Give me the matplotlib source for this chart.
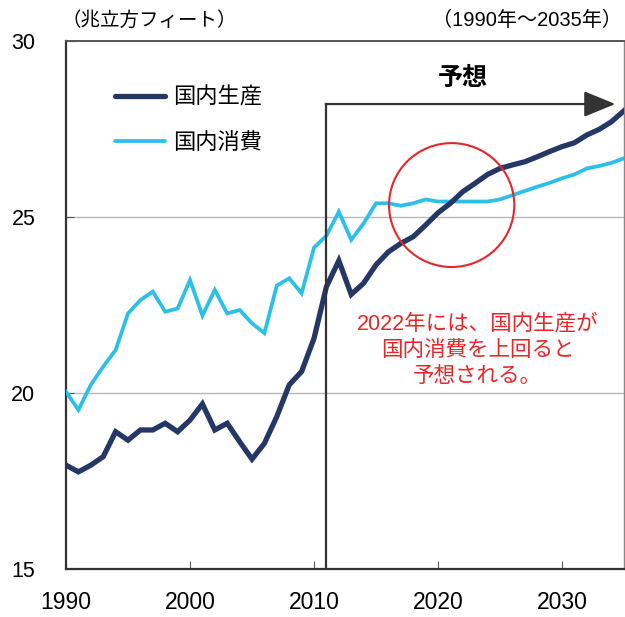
import matplotlib.pyplot as plt
from matplotlib.patches import Ellipse

plt.rcParams['font.family'] = ['Liberation Sans', 'Noto Sans CJK JP', 'DejaVu Sans']

years = list(range(1990, 2036))
# 国内生産 (兆立方フィート)
production = [17.95, 17.76, 17.95, 18.19, 18.90, 18.66, 18.95, 18.95, 19.14, 18.90,
              19.23, 19.69, 18.95, 19.14, 18.62, 18.12, 18.57, 19.33, 20.23, 20.61,
              21.55, 23.02, 23.76, 22.80, 23.12, 23.64, 24.01, 24.25, 24.44, 24.77,
              25.12, 25.39, 25.72, 25.96, 26.21, 26.38, 26.48, 26.57, 26.71, 26.86,
              27.00, 27.11, 27.33, 27.49, 27.71, 28.02]
# 国内消費 (兆立方フィート)
consumption = [20.04, 19.52, 20.23, 20.75, 21.22, 22.26, 22.64, 22.88, 22.31, 22.40,
               23.21, 22.20, 22.93, 22.26, 22.36, 21.98, 21.70, 23.05, 23.26, 22.83,
               24.13, 24.47, 25.15, 24.35, 24.82, 25.39, 25.39, 25.32, 25.39, 25.50,
               25.44, 25.44, 25.44, 25.44, 25.44, 25.50, 25.62, 25.74, 25.86, 25.97,
               26.10, 26.21, 26.38, 26.45, 26.54, 26.67]

x_ticks = [1990, 2000, 2010, 2020, 2030]
y_ticks = [15, 20, 25, 30]

forecast_start = 2011
arrow_end = 2034.3
arrow_level = 28.21
cross_year = 2021.1
cross_value = 25.34

navy = '#253865'
sky = '#2bc0ea'
red = '#e8262a'

fig = plt.figure(figsize=(6.25, 6.17), dpi=100)
ax = fig.add_axes([0.1056, 0.0778, 0.8928, 0.8557])

ax.plot(years, production, color=navy, lw=3.8, solid_joinstyle='miter', label='国内生産', zorder=4)
ax.plot(years, consumption, color=sky, lw=2.7, solid_joinstyle='miter', label='国内消費', zorder=3)

ax.set_xlim(1990, 2035)
ax.set_ylim(15, 30)
ax.set_xticks(x_ticks)
ax.set_yticks(y_ticks)
ax.tick_params(axis='x', direction='in', length=6, width=0.8, color='#555555', pad=16, labelsize=16.5)
ax.tick_params(axis='y', direction='in', length=6, width=0.8, color='#555555', pad=22, labelsize=15.5)
for y in (20, 25):
    ax.axhline(y, color='#b8b8b8', lw=1.0, zorder=1)

for side in ('left', 'bottom'):
    ax.spines[side].set_color('#333333')
    ax.spines[side].set_linewidth(1.6)
ax.spines['top'].set_color('#555555')
ax.spines['top'].set_linewidth(1.4)
ax.spines['right'].set_color('#888888')
ax.spines['right'].set_linewidth(1.0)

# 予想期間を示す矢印
ax.plot([forecast_start, forecast_start], [15, arrow_level], color='#333333', lw=1.6, zorder=5)
ax.annotate('', xy=(arrow_end, arrow_level), xytext=(forecast_start - 0.06, arrow_level),
            arrowprops=dict(arrowstyle='-|>,head_length=1.95,head_width=0.8',
                            color='#333333', lw=1.6, shrinkA=0, shrinkB=0), zorder=5)
ax.text(2022.0, 28.95, '予想', ha='center', va='center', fontsize=18, fontweight='bold',
        family=['Noto Sans CJK JP'])

ax.add_patch(Ellipse((cross_year, cross_value), 10.1, 3.52, fill=False, ec=red, lw=1.5, zorder=6))
ax.text(2023.2, 21.22, '2022年には、国内生産が\n国内消費を上回ると\n予想される。', ha='center', va='center',
        color=red, fontsize=15.5, linespacing=1.32)

leg = ax.legend(loc='upper left', bbox_to_anchor=(0.088, 0.915), frameon=False,
                handlelength=2.25, handletextpad=0.35, labelspacing=0.98,
                borderaxespad=0, borderpad=0,
                prop={'family': ['Noto Sans CJK JP'], 'size': 16})
for line in leg.get_lines():
    line.set_solid_capstyle('round')

fig.text(0.099, 0.967, '（兆立方フィート）', ha='left', va='center', fontsize=14,
         family=['Noto Sans CJK JP'])
fig.text(0.995, 0.967, '（1990年～2035年）', ha='right', va='center', fontsize=14.5)

fig.savefig('out.png', dpi=100)
